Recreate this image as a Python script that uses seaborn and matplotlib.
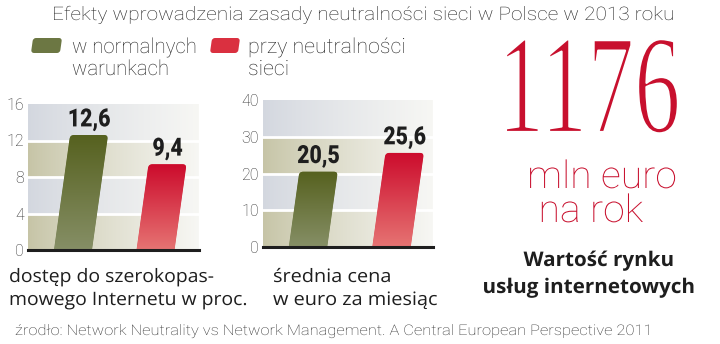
import numpy as np
import pandas as pd
import matplotlib
matplotlib.use("Agg")
import matplotlib.pyplot as plt
import seaborn as sns
from matplotlib import patheffects
from matplotlib.transforms import Affine2D
from matplotlib.patches import FancyBboxPatch
from matplotlib.colors import LinearSegmentedColormap, to_rgb

# ---------------------------------------------------------------- data
title = "Efekty wprowadzenia zasady neutralności sieci w Polsce w 2013 roku"
scenarios = ["w normalnych warunkach", "przy neutralności sieci"]
legend_lines = [["w normalnych", "warunkach"], ["przy neutralności", "sieci"]]
broadband_pct = [12.6, 9.4]
price_eur_month = [20.5, 25.6]
ticks_broadband = [0, 4, 8, 12, 16]
ticks_price = [0, 10, 20, 30, 40]
caption_broadband = ["dostęp do szerokopas-", "mowego Internetu w proc."]
caption_price = ["średnia cena", "w euro za miesiąc"]
market_value = 1176
market_unit = ["mln euro", "na rok"]
market_caption = ["Wartość rynku", "usług internetowych"]
source = ("źrodło: Network Neutrality vs Network Management. "
          "A Central European Perspective 2011")

# ---------------------------------------------------------------- style
W, H = 720, 344
SLANT = 0.14                      # horizontal lean of the bars
INK = "#1e1e1e"
SOFT_INK = "#222222"
CRIMSON = "#c8102e"
BAR_BASE = ["#6b7640", "#d8303f"]
BAR_GRAD = [("#868f66", "#56611f"), ("#e67473", "#cc0b2c")]   # bottom, top
SWATCH = ["#6c7743", "#da3040"]
BAND_A, BAND_B, BAND_END = "#c6c4a6", "#d3d7df", "#f7f7f4"
LIGHT = ["Roboto", "DejaVu Sans"]
HUMAN = ["Open Sans", "DejaVu Sans"]
SERIF = ["Liberation Serif", "DejaVu Serif"]

fig = plt.figure(figsize=(W / 100, H / 100), dpi=100)
fig.patch.set_facecolor("white")
renderer = fig.canvas.get_renderer()


def fx(x):
    return x / W


def fy(y):
    return 1 - y / H


class Reshape(patheffects.AbstractPathEffect):
    """Rescale glyph outlines about the baseline (condensed / tall cuts),
    optionally thinning the strokes with a background-coloured outline."""

    def __init__(self, sx=1.0, sy=1.0, anchor="left", thin=0.0, paper="white"):
        super().__init__()
        self.sx, self.sy, self.anchor = sx, sy, anchor
        self.thin, self.paper = thin, paper

    def draw_path(self, renderer, gc, tpath, affine, rgbFace=None):
        ext = tpath.get_extents()
        cx = {"left": 0.0, "center": 0.5 * (ext.x0 + ext.x1),
              "right": ext.x1}[self.anchor]
        tr = (Affine2D().translate(-cx, 0).scale(self.sx, self.sy)
              .translate(cx, 0) + affine)
        renderer.draw_path(gc, tpath, tr, rgbFace)
        if self.thin > 0:
            gc2 = renderer.new_gc()
            gc2.copy_properties(gc)
            gc2.set_foreground(self.paper)
            gc2.set_linewidth(self.thin)
            renderer.draw_path(gc2, tpath, tr, None)
            gc2.restore()


def put_lines(xs, baselines, lines, size, width=None, ha="left",
              family=LIGHT, weight="normal", color=INK, sy=1.0, thin=0.0):
    if np.isscalar(xs):
        xs = [xs] * len(lines)
    texts = [fig.text(fx(x), fy(b), s, ha=ha, va="baseline", fontsize=size,
                      family=family, weight=weight, color=color)
             for x, b, s in zip(xs, baselines, lines)]
    sx = 1.0
    if width:
        natural = max(t.get_window_extent(renderer).width for t in texts)
        sx = width / natural
    if width or sy != 1.0 or thin:
        for t in texts:
            t.set_path_effects([Reshape(sx, sy, ha, thin)])
    return texts


def panel(left, top, right, bottom, values, ticks, xlim):
    ax = fig.add_axes([fx(left), fy(bottom), (right - left) / W, (bottom - top) / H])
    df = pd.DataFrame({"scenariusz": scenarios, "wartosc": values})
    sns.barplot(data=df, x="scenariusz", y="wartosc", hue="scenariusz",
                palette=dict(zip(scenarios, BAR_BASE)), width=0.46,
                saturation=1, legend=False, ax=ax, zorder=2, linewidth=0)
    bars = list(ax.patches)
    ymax = ticks[-1]

    # alternating bands fading to white towards the right
    t = np.linspace(0, 1, 300) ** 0.85
    end = np.array(to_rgb(BAND_END))
    rows = []
    for i in range(len(ticks) - 1):
        c = np.array(to_rgb(BAND_A if i % 2 == 0 else BAND_B))
        rows.append(c[None, :] * (1 - t[:, None]) + end[None, :] * t[:, None])
    ax.imshow(np.stack(rows), extent=[xlim[0], xlim[1], 0, ymax], origin="lower",
              aspect="auto", interpolation="nearest", zorder=0)
    for v in ticks[1:-1]:
        ax.axhline(v, color="white", lw=2, zorder=1)

    ax.set_xlim(xlim)
    ax.set_ylim(0, ymax)
    ax.set_yticks(ticks)
    ax.set_xticks([])
    ax.set_xlabel("")
    ax.set_ylabel("")
    for s in ax.spines.values():
        s.set_visible(False)
    ax.tick_params(axis="y", length=0, pad=3, labelsize=11.5, labelcolor="#2e2e2e")
    for lab in ax.get_yticklabels():
        lab.set_family(LIGHT)
        lab.set_fontweight("light")

    y0 = ax.transData.transform((0, 0))[1]
    skew = Affine2D().translate(0, -y0).skew(np.arctan(SLANT), 0).translate(0, y0)

    r = 4
    for rect, (c_bot, c_top), v in zip(bars, BAR_GRAD, values):
        x0, w, h = rect.get_x(), rect.get_width(), rect.get_height()
        X0, Y0 = ax.transData.transform((x0, 0))
        X1, Y1 = ax.transData.transform((x0 + w, h))
        rounded = FancyBboxPatch((X0, Y0 - r), X1 - X0, Y1 - Y0 + r,
                                 boxstyle=f"round,pad=0,rounding_size={r}",
                                 transform=skew)
        rect.set_transform(ax.transData + skew)
        rect.set_clip_path(rounded)
        cmap = LinearSegmentedColormap.from_list("bar", [c_bot, c_top])
        im = ax.imshow(np.linspace(0, 1, 128).reshape(-1, 1), cmap=cmap,
                       extent=[x0 - 0.1, x0 + w + 0.6, 0, h], origin="lower",
                       aspect="auto", zorder=2.1)
        im.set_clip_path(rounded)
        lab = ax.annotate(f"{v:.1f}".replace(".", ","), xy=(x0 + w / 2, h),
                          xycoords=ax.transData + skew, xytext=(0, 6.2),
                          textcoords="offset points", ha="center", va="baseline",
                          fontsize=17, fontweight="black", family=LIGHT, color=INK,
                          zorder=6, annotation_clip=False)
        lab.set_path_effects([Reshape(0.9, 1.06, "center")])

    ax.axhline(0, color=INK, lw=2.2, zorder=5, clip_on=False)
    ax.set_xlim(xlim)
    ax.set_ylim(0, ymax)
    return ax


panel(28, 104, 199, 250, broadband_pct, ticks_broadband, (-0.545, 1.527))
panel(263, 100, 433, 247, price_eur_month, ticks_price, (-0.539, 1.497))

# ---------------------------------------------------------------- texts
put_lines(52, [20], [title], 13.4, width=623, family=LIGHT, weight="light",
          color=SOFT_INK)

for (sx0, sx1), (tx, tw), lines, col in zip([(32, 63), (211, 241)],
                                            [(72, 125), (248, 158)],
                                            legend_lines, SWATCH):
    yb, yt = H - 53, H - 38
    cy = 0.5 * (yb + yt)
    lean = Affine2D().translate(0, -cy).skew(np.arctan(SLANT), 0).translate(0, cy)
    fig.add_artist(FancyBboxPatch((sx0, yb), sx1 - sx0 - 2, yt - yb,
                                  boxstyle="round,pad=0,rounding_size=3",
                                  transform=lean, facecolor=col, edgecolor="none"))
    put_lines(tx, [53, 75], lines, 15, width=tw, family=LIGHT, weight="light",
              color=SOFT_INK)

put_lines(9, [282, 305], caption_broadband, 13.3, width=239, family=HUMAN)
put_lines(273, [282, 305], caption_price, 13.3, width=165, family=HUMAN)

# headline figure: set smaller and stretched upwards so its box stays on the page
put_lines(589, [132], [f"{market_value}"], 72, width=183, ha="center",
          family=SERIF, color=CRIMSON, sy=101 / 72, thin=1.6)
put_lines([602, 591], [188, 222], market_unit, 27.5, width=150, ha="center",
          family=LIGHT, weight="light", color=CRIMSON)
put_lines([599, 589], [266, 293], market_caption, 14.5, width=213, ha="center",
          family=HUMAN, weight="bold", color=INK)

put_lines(15, [335], [source], 10.5, width=640, family=LIGHT, weight="light",
          color="#2a2a2a")

fig.savefig("out.png", dpi=100, facecolor="white")
